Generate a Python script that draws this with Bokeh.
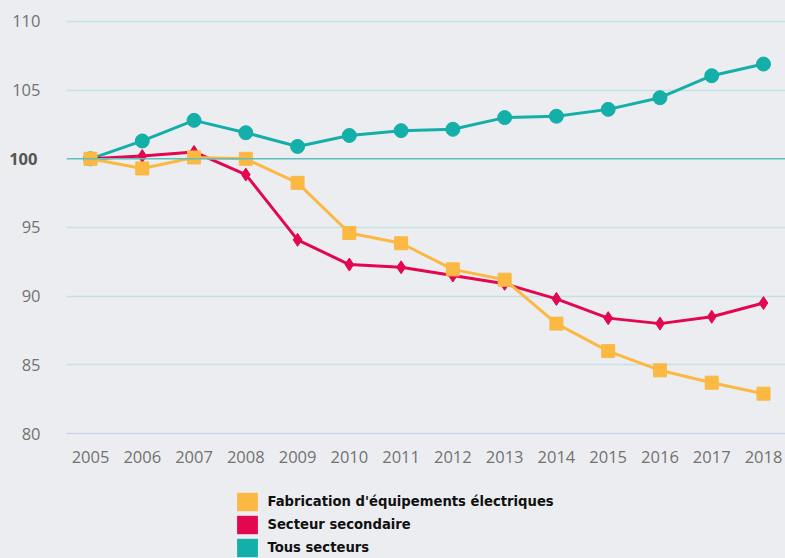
from bokeh.plotting import figure
from bokeh.models import Range1d, FixedTicker, Span, Legend, LegendItem, LinearAxis
from bokeh.layouts import column
from bokeh.embed import file_html
from bokeh.resources import INLINE

years = [2005, 2006, 2007, 2008, 2009, 2010, 2011, 2012, 2013, 2014, 2015, 2016, 2017, 2018]
tous_secteurs = [100.0, 101.3, 102.8, 101.9, 100.9, 101.7, 102.05, 102.15, 103.0, 103.1, 103.6, 104.45, 106.05, 106.9]
secteur_secondaire = [100.0, 100.2, 100.5, 98.85, 94.1, 92.3, 92.1, 91.5, 90.9, 89.8, 88.4, 88.0, 88.5, 89.5]
fabrication = [100.0, 99.3, 100.1, 100.0, 98.25, 94.6, 93.85, 91.95, 91.2, 88.0, 86.0, 84.6, 83.7, 82.9]
y_ticks = [80, 85, 90, 95, 105, 110]
y_ref_tick = [100]
series_names = ["Fabrication d'équipements électriques", "Secteur secondaire", "Tous secteurs"]

BG = "#ECEDF0"
YELLOW = "#FBB944"
RED = "#E2074E"
TEAL = "#14AFA8"
FONT = "Open Sans"
TICK_COLOR = "#727272"
FRAME_LEFT = 66

p = figure(width=785, height=480, output_backend="svg", toolbar_location=None,
           x_range=Range1d(2004.5364, 2018.425), y_range=Range1d(80, 110.58),
           min_border_left=FRAME_LEFT, min_border_right=0, min_border_top=13, min_border_bottom=47)
p.background_fill_color = BG
p.border_fill_color = BG
p.outline_line_color = None

# x axis
p.xaxis.ticker = FixedTicker(ticks=years)
p.xaxis.axis_line_color = "#C9D5E7"
p.xaxis.axis_line_width = 1.5
p.xaxis.major_tick_line_color = None
p.xaxis.minor_tick_line_color = None
p.xaxis.major_label_text_font = FONT
p.xaxis.major_label_text_font_size = "16.5px"
p.xaxis.major_label_text_color = TICK_COLOR
p.xaxis.major_label_standoff = 11

# y axis (regular ticks)
p.yaxis.ticker = FixedTicker(ticks=y_ticks)
p.yaxis.axis_line_color = None
p.yaxis.major_tick_line_color = None
p.yaxis.minor_tick_line_color = None
p.yaxis.major_tick_out = 0
p.yaxis.major_tick_in = 0
p.yaxis.minor_tick_out = 0
p.yaxis.major_label_text_font = FONT
p.yaxis.major_label_text_font_size = "16.5px"
p.yaxis.major_label_text_color = TICK_COLOR
p.yaxis.major_label_standoff = 26

# y axis for the bold reference value 100
ax100 = LinearAxis(ticker=FixedTicker(ticks=y_ref_tick), axis_line_color=None,
                   major_tick_line_color=None, minor_tick_line_color=None,
                   major_tick_out=0, major_tick_in=0, minor_tick_out=0,
                   major_label_text_font=FONT, major_label_text_font_size="16.5px",
                   major_label_text_font_style="bold", major_label_text_color="#555555",
                   major_label_standoff=-28)
p.add_layout(ax100, "left")

p.xgrid.grid_line_color = None
p.ygrid.ticker = FixedTicker(ticks=[t for t in y_ticks if t != 80])
p.ygrid.grid_line_color = "#C3E3E3"
p.ygrid.grid_line_width = 1.5

p.add_layout(Span(location=y_ref_tick[0], dimension="width", line_color="#5DBFBE", line_width=1.5))

# series
p.line(years, tous_secteurs, line_color=TEAL, line_width=3)
p.scatter(years, tous_secteurs, marker="circle", size=14, fill_color=TEAL, line_color=TEAL)
p.line(years, secteur_secondaire, line_color=RED, line_width=3)
p.scatter(years, secteur_secondaire, marker="diamond", size=13, fill_color=RED, line_color=RED)
p.line(years, fabrication, line_color=YELLOW, line_width=3)
p.scatter(years, fabrication, marker="square", size=13, fill_color=YELLOW, line_color=YELLOW)

# legend in its own strip below the chart (frame aligned with the chart's frame)
lg = figure(width=785, height=78, output_backend="svg", toolbar_location=None,
            x_range=Range1d(0, 1), y_range=Range1d(0, 1),
            x_axis_location=None, y_axis_location=None,
            min_border_left=0, min_border_right=0, min_border_top=0, min_border_bottom=0)
lg.background_fill_color = BG
lg.border_fill_color = BG
lg.outline_line_color = None
lg.grid.visible = False

colors = [YELLOW, RED, TEAL]
items = []
for name, c in zip(series_names, colors):
    # swatch glyph kept outside the visible range; only its legend square shows
    r = lg.quad(left=[5], right=[6], top=[6], bottom=[5], fill_color=c, line_color=None)
    items.append(LegendItem(label=name, renderers=[r]))
legend = Legend(items=items, location=(234.4 - FRAME_LEFT, -1), orientation="vertical",
                glyph_width=26, glyph_height=23, label_height=23, spacing=0, padding=0,
                margin=0, label_standoff=7, border_line_color=None,
                background_fill_alpha=0, label_text_font="DejaVu Sans",
                label_text_font_style="bold", label_text_font_size="13.2px",
                label_text_color="#111111")
lg.add_layout(legend, "center")

layout = column(p, lg, spacing=0)
html = file_html(layout, INLINE)
html = html.replace("</head>", "<style>html, body { background-color: %s; }</style></head>" % BG, 1)
open("out.html", "w").write(html)
